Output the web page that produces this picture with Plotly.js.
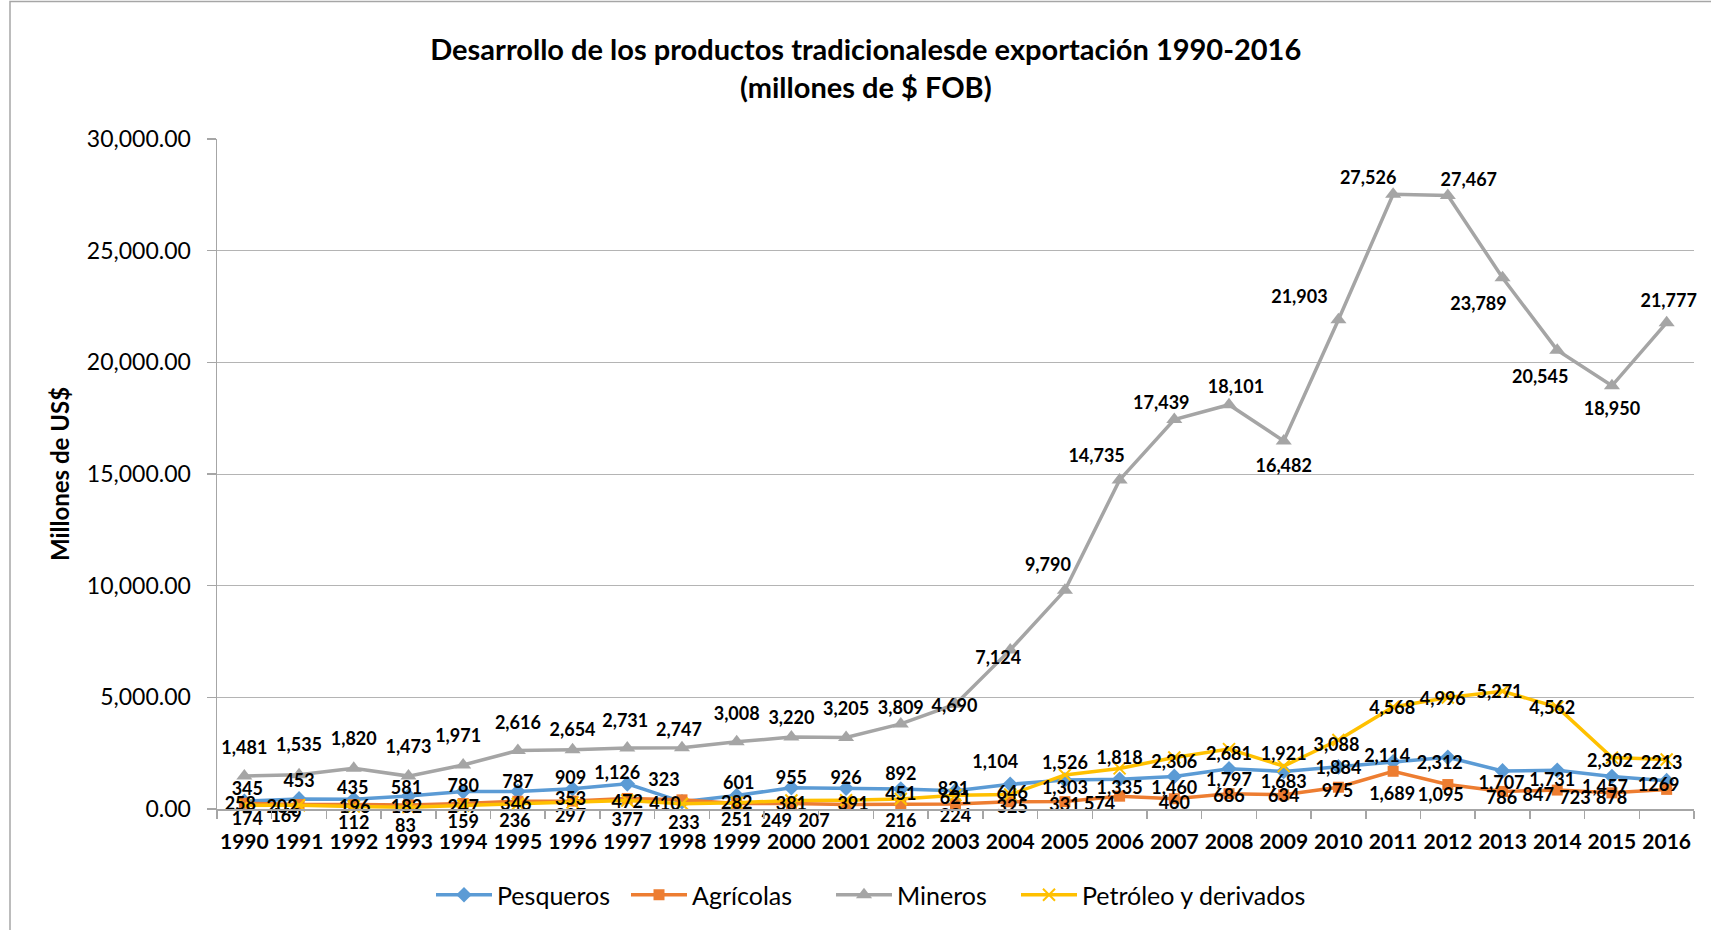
<!DOCTYPE html>
<html>
<head>
<meta charset="utf-8">
<script src="https://cdn.plot.ly/plotly-3.0.1.min.js"></script>
<style>
  html, body { margin: 0; padding: 0; background: #ffffff; }
  #chart { width: 1711px; height: 930px; }
</style>
</head>
<body>
<div id="chart"></div>
<script>
// ---- Data (millones de US$ FOB) ----
const years = ['1990','1991','1992','1993','1994','1995','1996','1997','1998','1999','2000','2001','2002','2003','2004','2005','2006','2007','2008','2009','2010','2011','2012','2013','2014','2015','2016'];
const pesqueros = [345,453,435,581,780,787,909,1126,323,601,955,926,892,821,1104,1303,1335,1460,1797,1683,1884,2114,2312,1707,1731,1457,1269];
const agricolas = [258,202,196,182,247,346,353,472,410,251,249,207,216,224,325,331,574,460,686,634,975,1689,1095,786,847,723,878];
const mineros = [1481,1535,1820,1473,1971,2616,2654,2731,2747,3008,3220,3205,3809,4690,7124,9790,14735,17439,18101,16482,21903,27526,27467,23789,20545,18950,21777];
const petroleo = [174,169,112,83,159,236,297,377,233,282,381,391,451,621,646,1526,1818,2306,2681,1921,3088,4568,4996,5271,4562,2302,2213];
// labels that the source shows without a thousands separator
const plainLabelYears = { pesqueros: ['2016'], petroleo: ['2016'] };

// ---- Label placement (pixel offsets of label centre from its point: [dx, dy], dy downwards) ----
const offMineros = [[0,-29],[0,-31],[0,-31],[0,-30],[-5,-30],[0,-29],[0,-21],[-2,-28],[-3,-19],[0,-29],[0,-20],[0,-30],[0,-17],[-1,1],[-12,7],[-17,-27],[-23,-25],[-13,-18],[7,-19],[0,24],[-39,-24],[-25,-17],[21,-17],[-24,25],[-17,26],[0,22],[2,-23]];
const offPesqueros = [[3,-14],[0,-19],[-1,-12],[-2,-9],[0,-7],[0,-11],[-2,-12],[-10,-12],[-18,-23],[2,-14],[0,-11],[0,-12],[0,-16],[-2,-3],[-15,-24],[0,7],[0,8],[0,10],[0,10],[0,9],[0,0],[-6,-7],[-8,4],[-1,11],[-5,8],[-7,9],[-8,3]];
const offAgricolas = [[-4,0],[-17,3],[1,3],[-2,2],[0,2],[-2,2],[-2,-3],[0,2],[-17,3],[0,15],[-15,16],[-32,15],[0,16],[0,9],[2,5],[0,2],[-20,7],[0,3],[0,1],[0,0],[-1,3],[-1,22],[-7,9],[-1,5],[-19,4],[-37,4],[-55,7]];
const offPetroleo = [[3,13],[-13,10],[0,15],[-3,18],[0,15],[-3,16],[-2,13],[0,18],[2,18],[0,-1],[0,2],[7,3],[0,-6],[0,2],[2,-3],[0,-13],[0,-12],[0,3],[0,4],[0,-13],[-2,4],[-1,0],[-5,0],[-3,0],[-5,0],[-2,2],[-5,2]];

const FONT = 'Lato, "Open Sans", sans-serif';
const LABEL_FS = 18;
const W = 1711, H = 930;
const M = { l: 217, r: 17, t: 139, b: 121 };
const Y_MAX = 30000;
const plotW = W - M.l - M.r, plotH = H - M.t - M.b;
const pxPerCat = plotW / years.length;     // category width in px
const unitsPerPx = Y_MAX / plotH;           // y data units per px
const idx = years.map((_, i) => i);
const boundaries = years.map((_, i) => i - 0.5).concat([years.length - 0.5]);

const series = [
  { name: 'Pesqueros', key: 'pesqueros', y: pesqueros, color: '#5B9BD5', symbol: 'diamond', size: 12, off: offPesqueros, legendW: 124 },
  { name: 'Agrícolas', key: 'agricolas', y: agricolas, color: '#ED7D31', symbol: 'square', size: 11, off: offAgricolas, legendW: 134 },
  { name: 'Mineros', key: 'mineros', y: mineros, color: '#A5A5A5', symbol: 'triangle-up', size: 14, off: offMineros, legendW: 114 },
  { name: 'Petróleo y derivados', key: 'petroleo', y: petroleo, color: '#FFC000', symbol: 'x-thin', size: 12, off: offPetroleo, legendW: 260 }
];

function fmt(v) { return v.toLocaleString('en-US'); }

const lineTraces = series.map(s => ({
  type: 'scatter',
  mode: 'lines+markers',
  name: s.name,
  x: idx,
  y: s.y,
  legendwidth: s.legendW,
  line: { color: s.color, width: 3.5 },
  marker: s.symbol === 'x-thin'
    ? { symbol: s.symbol, size: s.size, color: s.color, line: { color: s.color, width: 2 } }
    : { symbol: s.symbol, size: s.size, color: s.color },
  cliponaxis: false,
  hoverinfo: 'skip'
}));

// Data labels: each label is anchored on its own point; the pixel offset is turned into
// data units. For labels that would sit under the zero line the anchor stays on the axis
// and an invisible marker pushes the text down (Plotly hides text outside the range).
const MID_SHIFT = -0.15 * LABEL_FS;   // label centre vs. anchor for 'middle center'
const BOT_SHIFT = 0.35 * LABEL_FS;    // label centre vs. anchor for 'bottom center' without marker
const labelTraces = series.map(s => {
  const plain = plainLabelYears[s.key] || [];
  const xs = [], ys = [], pos = [], sizes = [];
  s.y.forEach((v, i) => {
    const dx = s.off[i][0], dy = s.off[i][1];
    xs.push(i + dx / pxPerCat);
    const midAnchor = v - (dy - MID_SHIFT) * unitsPerPx;
    if (midAnchor >= 0) {
      ys.push(midAnchor); pos.push('middle center'); sizes.push(0);
      return;
    }
    const below = dy - v / unitsPerPx;            // wanted centre, px below the zero line
    ys.push(0.5);
    if (below < (MID_SHIFT + BOT_SHIFT) / 2) {
      pos.push('middle center'); sizes.push(0);
    } else {
      const r = below - BOT_SHIFT;
      pos.push('bottom center');
      sizes.push(r > 1.2 ? (r - 1) * 1.6 : 0);
    }
  });
  return {
    type: 'scatter',
    mode: 'markers+text',
    showlegend: false,
    x: xs, y: ys,
    text: s.y.map((v, i) => plain.indexOf(years[i]) >= 0 ? String(v) : fmt(v)),
    textposition: pos,
    marker: { size: sizes, opacity: 0, color: '#000000' },
    textfont: { family: FONT, size: LABEL_FS, color: '#000000', weight: 'bold' },
    cliponaxis: false,
    hoverinfo: 'skip'
  };
});

const layout = {
  width: W, height: H,
  paper_bgcolor: '#ffffff', plot_bgcolor: '#ffffff',
  margin: { l: M.l, r: M.r, t: M.t, b: M.b, pad: 0 },
  font: { family: FONT, color: '#000000' },
  title: {
    text: 'Desarrollo de los productos tradicionalesde exportación 1990-2016<br>(millones de $ FOB)',
    font: { family: FONT, size: 29, color: '#000000', weight: 'bold' },
    x: 0.506, xref: 'container', xanchor: 'center',
    y: 1 - 60 / 930, yref: 'container', yanchor: 'middle'
  },
  xaxis: {
    type: 'linear',
    range: [-0.5, years.length - 0.5],
    tickmode: 'array', tickvals: idx, ticktext: years,
    ticks: '',
    minor: { tickmode: 'array', tickvals: boundaries, ticks: 'outside', ticklen: 8, tickcolor: '#A6A6A6', tickwidth: 1.5, showgrid: false },
    showgrid: false,
    showline: true, linecolor: '#A6A6A6', linewidth: 1.5,
    tickangle: 0,
    tickfont: { family: FONT, size: 21, color: '#000000', weight: 'bold' },
    ticklabelstandoff: 13,
    zeroline: false, fixedrange: true
  },
  yaxis: {
    range: [0, Y_MAX],
    tickvals: [0, 5000, 10000, 15000, 20000, 25000, 30000],
    tickformat: ',.2f',
    showgrid: true, gridcolor: '#B4B4B4', gridwidth: 1,
    showline: true, linecolor: '#A6A6A6', linewidth: 1.5,
    ticks: 'outside', ticklen: 9, tickcolor: '#A6A6A6', tickwidth: 1.5,
    tickfont: { family: FONT, size: 23, color: '#000000' },
    ticklabelstandoff: 11,
    zeroline: false,
    title: { text: 'Millones de US$', font: { family: FONT, size: 24, color: '#000000', weight: 'bold' }, standoff: 10 },
    fixedrange: true
  },
  showlegend: true,
  legend: {
    orientation: 'h',
    x: (431 - M.l) / plotW, xanchor: 'left',
    y: -(895 - (H - M.b)) / plotH, yanchor: 'middle',
    font: { family: FONT, size: 25, color: '#000000' },
    itemwidth: 56,
    traceorder: 'normal',
    bgcolor: 'rgba(0,0,0,0)'
  },
  shapes: [{
    type: 'rect', xref: 'paper', yref: 'paper',
    x0: (10 - M.l) / plotW, x1: (W + 14 - M.l) / plotW,
    y0: -(945 - (H - M.b)) / plotH, y1: ((H - M.b) - 1.5) / plotH,
    line: { color: '#A6A6A6', width: 1.5 }, fillcolor: 'rgba(0,0,0,0)', layer: 'below'
  }]
};

Plotly.newPlot('chart', lineTraces.concat(labelTraces), layout, { staticPlot: true, displayModeBar: false });
</script>
</body>
</html>
